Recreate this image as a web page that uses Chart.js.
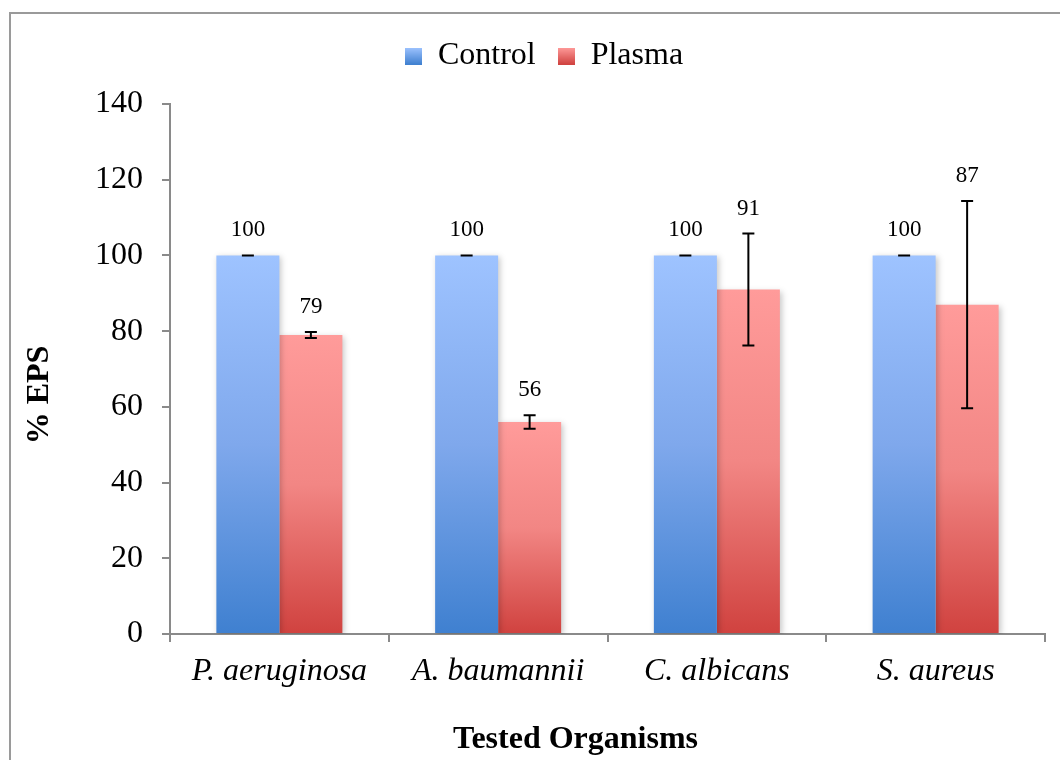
<!DOCTYPE html>
<html>
<head>
<meta charset="utf-8">
<script src="https://cdn.jsdelivr.net/npm/chart.js@4"></script>
<style>
  html, body { margin: 0; padding: 0; background: #fff; overflow: hidden; }
  #frame { position: absolute; left: 9px; top: 12px; width: 1100px; height: 800px; border: 2px solid #9a9a9a; }
  #eps { position: absolute; left: 0; top: 0; }
</style>
</head>
<body>
<div id="frame"></div>
<canvas id="eps" width="1060" height="760"></canvas>
<script>
const organisms = ['P. aeruginosa', 'A. baumannii', 'C. albicans', 'S. aureus'];
const controlValues = [100, 100, 100, 100];
const controlErrors = [0, 0, 0, 0];
const plasmaValues = [79, 56, 91, 87];
const plasmaErrors = [0.8, 1.8, 14.8, 27.4];
const yTicks = [0, 20, 40, 60, 80, 100, 120, 140];

const SERIF = '"Liberation Serif", "Times New Roman", serif';
const blueStops = ['#9ec3ff', '#7fa8ec', '#3f80d0'];
const redStops = ['#ff9b9a', '#f28684', '#d0423f'];

// vertical gradient spanning each bar, from its value down to zero
function barFill(stops) {
  return function(ctx) {
    const chart = ctx.chart;
    if (!chart.chartArea || ctx.type !== 'data') return stops[1];
    const y = chart.scales.y;
    const top = y.getPixelForValue(ctx.raw);
    const bottom = y.getPixelForValue(0);
    const g = chart.ctx.createLinearGradient(0, top, 0, bottom);
    g.addColorStop(0, stops[0]);
    g.addColorStop(0.5, stops[1]);
    g.addColorStop(1, stops[2]);
    return g;
  };
}

// little gradient squares for the legend
function swatch(stops) {
  const c = document.createElement('canvas');
  c.width = 17; c.height = 17;
  const x = c.getContext('2d');
  const g = x.createLinearGradient(0, 0, 0, 17);
  g.addColorStop(0, stops[0]);
  g.addColorStop(1, stops[2]);
  x.fillStyle = g;
  x.fillRect(0, 0, 17, 17);
  return c;
}

const errors = [controlErrors, plasmaErrors];

// extra room under the legend
const legendGap = {
  id: 'legendGap',
  beforeInit(chart) {
    const legend = chart.legend;
    if (!legend) return;
    const fit = legend.fit;
    legend.fit = function() {
      fit.call(this);
      this.height += 22;
    };
  }
};

const barShadow = {
  id: 'barShadow',
  beforeDatasetsDraw(chart) {
    const c = chart.ctx;
    c.save();
    c.shadowColor = 'rgba(0,0,0,0.22)';
    c.shadowBlur = 6;
    c.shadowOffsetX = 2;
    c.shadowOffsetY = 2;
  },
  afterDatasetsDraw(chart) {
    chart.ctx.restore();
  }
};

// error bars and value labels
const errorBars = {
  id: 'errorBars',
  afterDatasetsDraw(chart) {
    const c = chart.ctx;
    const y = chart.scales.y;
    c.save();
    c.strokeStyle = '#000';
    c.lineWidth = 2;
    c.fillStyle = '#000';
    c.font = '23px ' + SERIF;
    c.textAlign = 'center';
    c.textBaseline = 'middle';
    chart.data.datasets.forEach((ds, di) => {
      const meta = chart.getDatasetMeta(di);
      meta.data.forEach((bar, i) => {
        const v = ds.data[i];
        const e = errors[di][i];
        const x = bar.x;
        const yHi = y.getPixelForValue(v + e);
        const yLo = y.getPixelForValue(v - e);
        c.beginPath();
        c.moveTo(x, yHi); c.lineTo(x, yLo);
        c.moveTo(x - 6, yHi); c.lineTo(x + 6, yHi);
        c.moveTo(x - 6, yLo); c.lineTo(x + 6, yLo);
        c.stroke();
        c.fillText(String(Math.round(v)), x, yHi - 25);
      });
    });
    c.restore();
  }
};

// axis titles
const axisTitles = {
  id: 'axisTitles',
  afterDraw(chart) {
    const c = chart.ctx;
    const area = chart.chartArea;
    c.save();
    c.fillStyle = '#000';
    c.font = 'bold 32px ' + SERIF;
    c.textAlign = 'center';
    c.textBaseline = 'middle';
    c.fillText('Tested Organisms', (area.left + area.right) / 2 - 32, 740);
    c.translate(40, (area.top + area.bottom) / 2 + 26);
    c.rotate(-Math.PI / 2);
    c.fillText('% EPS', 0, 0);
    c.restore();
  }
};

new Chart(document.getElementById('eps'), {
  type: 'bar',
  data: {
    labels: organisms,
    datasets: [
      {
        label: 'Control',
        data: controlValues,
        backgroundColor: barFill(blueStops),
        pointStyle: swatch(blueStops)
      },
      {
        label: 'Plasma',
        data: plasmaValues,
        backgroundColor: barFill(redStops),
        pointStyle: swatch(redStops)
      }
    ]
  },
  options: {
    responsive: false,
    animation: false,
    categoryPercentage: 0.576,
    barPercentage: 1,
    layout: { padding: { top: 18, right: 15, left: 43, bottom: 0 } },
    plugins: {
      legend: {
        position: 'top',
        labels: {
          usePointStyle: true,
          boxWidth: 17,
          boxHeight: 17,
          font: { family: SERIF, size: 32 },
          color: '#000',
          padding: 22
        }
      },
      tooltip: { enabled: false }
    },
    scales: {
      x: {
        grid: { display: true, drawOnChartArea: false, tickLength: 8, color: '#8a8a8a', lineWidth: 2 },
        border: { color: '#8a8a8a', width: 2 },
        ticks: { color: '#000', font: { family: SERIF, size: 32, style: 'italic' }, padding: 10 },
        afterFit(scale) { scale.height = 126; }
      },
      y: {
        min: 0,
        max: 140,
        afterBuildTicks(scale) { scale.ticks = yTicks.map(v => ({ value: v })); },
        grid: { display: true, drawOnChartArea: false, tickLength: 8, color: '#8a8a8a', lineWidth: 2 },
        border: { color: '#8a8a8a', width: 2 },
        ticks: { color: '#000', font: { family: SERIF, size: 32 }, padding: 19 },
        afterFit(scale) { scale.width = 127; }
      }
    }
  },
  plugins: [legendGap, barShadow, errorBars, axisTitles]
});
</script>
</body>
</html>
